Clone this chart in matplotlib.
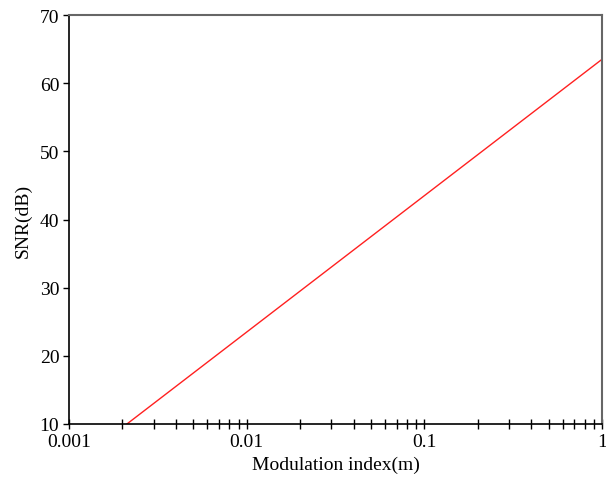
import matplotlib
matplotlib.use("Agg")
import matplotlib.pyplot as plt
from matplotlib.ticker import LogLocator, NullFormatter

plt.rcParams['font.family'] = ['Liberation Serif', 'DejaVu Serif']

m = [0.002, 1.0]
snr = [9.5, 63.5]
xticks = [0.001, 0.01, 0.1, 1]
xticklabels = ['0.001', '0.01', '0.1', '1']
yticks = [10, 20, 30, 40, 50, 60, 70]

fig = plt.figure(figsize=(6.06, 4.85), dpi=100)
ax = fig.add_axes([69/606, 1 - 425/485, (602-69)/606, (425-16)/485])
ax.plot(m, snr, color='#ff2020', lw=1.0)
ax.set_xscale('log')
ax.set_xlim(0.001, 1)
ax.set_ylim(10, 70)
ax.set_xticks(xticks)
ax.set_xticklabels(xticklabels)
ax.xaxis.set_minor_locator(LogLocator(base=10, subs=range(2, 10)))
ax.xaxis.set_minor_formatter(NullFormatter())
ax.set_yticks(yticks)
ax.tick_params(axis='x', which='both', direction='inout', length=7, width=1, labelsize=14, pad=3)
ax.tick_params(axis='y', direction='out', length=4, width=1, labelsize=14, pad=3)
for s in ['left', 'bottom']:
    ax.spines[s].set_color('black')
    ax.spines[s].set_linewidth(1.2)
for s in ['top', 'right']:
    ax.spines[s].set_color('#666666')
    ax.spines[s].set_linewidth(1.5)
ax.set_xlabel('Modulation index(m)', fontsize=14, labelpad=4)
ax.set_ylabel('SNR(dB)', fontsize=14, labelpad=6)
fig.savefig('out.png', dpi=100)
